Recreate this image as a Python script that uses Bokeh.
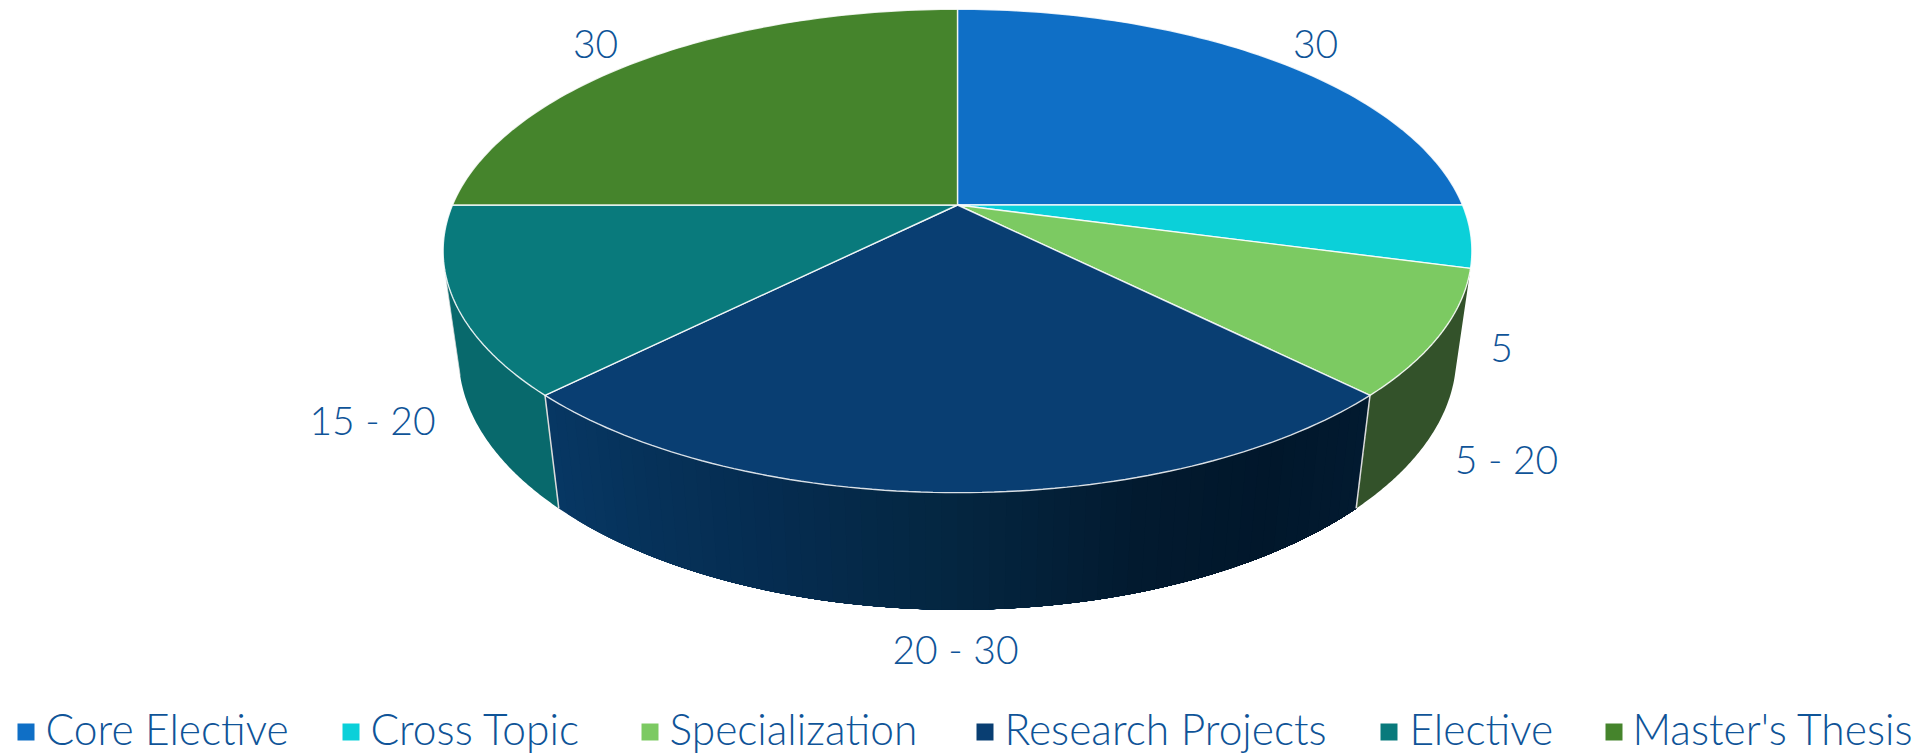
import math
from bokeh.plotting import figure
from bokeh.embed import file_html
from bokeh.resources import INLINE
from bokeh.core.properties import value

# ---- data ----
categories = ["Core Elective", "Cross Topic", "Specialization", "Research Projects", "Elective", "Master's Thesis"]
ects_share = [30, 5, 10, 30, 15, 30]
point_labels = ["30", "5", "5 - 20", "20 - 30", "15 - 20", "30"]
top_colors = ["#0f6fc6", "#0bd0d9", "#7cca62", "#093e72", "#097a7c", "#45842c"]

# ---- layout ----
W, H = 1921, 754
CX, CY = 957.0, 204.5
RX, RY, K = 505.0, 233.0, 0.19      # perspective pie
DEPTH_Y, DEPTH_W = 107.0, 0.03
FONT = "Lato Light"
TXT = "#0f5498"
label_xy = [(1315, 43), (1501, 347), (1506, 458), (955, 648), (372, 419), (595, 43)]
legend_box_x = [17, 342, 641, 976, 1380, 1605]
legend_text_x = [45, 370, 669, 1004, 1409, 1632]
LEG_Y = 731.5
LEG_TEXT_Y = 727.5
FS_LABEL = "39px"
FS_LEG = "42.5px"


def top_pt(deg):
    t = math.radians(deg)
    w = 1 - K * math.sin(t)
    return CX + RX * math.cos(t) / w, CY + RY * math.sin(t) / w


def bot_pt(deg):
    t = math.radians(deg)
    w = 1 - K * math.sin(t) + DEPTH_W
    return CX + RX * math.cos(t) / w, CY + (RY * math.sin(t) + DEPTH_Y) / w


def arc(fn, a, b, n=80):
    pts = [fn(a + (b - a) * i / n) for i in range(n + 1)]
    return [q[0] for q in pts], [q[1] for q in pts]


def lerp_hex(stops, f):
    for (f0, c0), (f1, c1) in zip(stops, stops[1:]):
        if f <= f1:
            u = (f - f0) / (f1 - f0)
            a = [int(c0[i:i + 2], 16) for i in (1, 3, 5)]
            b = [int(c1[i:i + 2], 16) for i in (1, 3, 5)]
            return "#%02x%02x%02x" % tuple(round(x + (y - x) * u) for x, y in zip(a, b))
    return stops[-1][1]


p = figure(width=W, height=H, x_range=(0, W), y_range=(H, 0),
           output_backend="svg", toolbar_location=None, min_border=0)
p.axis.visible = False
p.grid.visible = False
p.outline_line_color = None
p.background_fill_color = "white"

# angles from the values; the pie starts at 12 o'clock and runs clockwise
total = sum(ects_share)
edges = [-90.0]
for v in ects_share:
    edges.append(edges[-1] + 360.0 * v / total)

# ---- side walls ----
SIDE_ELECTIVE_END = 165
# Specialization wall
a0, a1 = edges[2], edges[3]
tx, ty = arc(top_pt, a0, a1)
bx, by = arc(bot_pt, a0, a1)
p.patch(tx + bx[::-1], ty + by[::-1], fill_color="#33522a", line_color=None)
# Elective wall
a0, a1 = edges[4], SIDE_ELECTIVE_END
tx, ty = arc(top_pt, a0, a1)
bx, by = arc(bot_pt, a0, a1)
p.patch(tx + bx[::-1], ty + by[::-1], fill_color="#08696c", line_color=None)
p.line(bx[-1:] + [tx[-1]], by[-1:] + [ty[-1]], line_color="#dddddd", line_alpha=0.7, line_width=1)
# Research wall: gradient in strips drawn from the left so each overlaps the next
stops = [(0.0, "#073763"), (0.3, "#052c50"), (0.5, "#042640"), (0.7, "#021a2f"), (0.85, "#01172b"), (1.0, "#021a30")]
a0, a1 = edges[3], edges[4]
N = 60
xs, ys, cols = [], [], []
for i in range(N):
    s = a1 + (a0 - a1) * i / N
    tx, ty = arc(top_pt, s, a0, 40)
    bx, by = arc(bot_pt, s, a0, 40)
    xs.append(tx + bx[::-1])
    ys.append(ty + by[::-1])
    cols.append(lerp_hex(stops, i / (N - 1)))
p.patches(xs, ys, fill_color=cols, line_color=None)
for a in (edges[3], edges[4]):
    p.line([top_pt(a)[0], bot_pt(a)[0]], [top_pt(a)[1], bot_pt(a)[1]], line_color="#dcdcdc", line_width=1.5)

# ---- top faces ----
for i, c in enumerate(top_colors):
    tx, ty = arc(top_pt, edges[i], edges[i + 1])
    p.patch([CX] + tx + [CX], [CY] + ty + [CY], fill_color=c, line_color="#ffffff", line_width=1.4, line_alpha=0.85)

# ---- labels ----
p.text([q[0] for q in label_xy], [q[1] for q in label_xy], text=point_labels,
       text_font=value(FONT), text_font_size=FS_LABEL, text_color=TXT,
       text_align="center", text_baseline="middle")

# ---- legend ----
p.rect([x + 8.5 for x in legend_box_x], [LEG_Y] * 6, width=17, height=17, fill_color=top_colors, line_color=None)
p.text(legend_text_x, [LEG_TEXT_Y] * 6, text=categories, text_font=value(FONT), text_font_size=FS_LEG,
       text_color=TXT, text_align="left", text_baseline="middle")

open("out.html", "w").write(file_html(p, INLINE))
